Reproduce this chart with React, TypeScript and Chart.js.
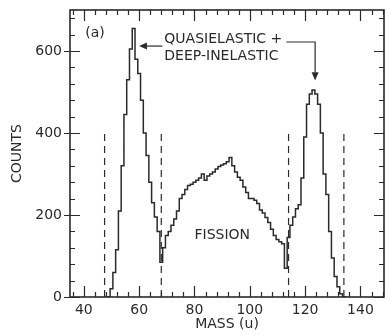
import React, { useEffect, useRef } from "react";
import { Chart, registerables } from "chart.js";

Chart.register(...registerables);

// Histogram bins (mass, u) and counts
const masses: number[] = [
  48, 49, 50, 51, 52, 53, 54, 55, 56, 57, 58, 59, 60, 61, 62, 63, 64, 65, 66, 67,
  68, 69, 70, 71, 72, 73, 74, 75, 76, 77, 78, 79, 80, 81, 82, 83, 84, 85, 86, 87,
  88, 89, 90, 91, 92, 93, 94, 95, 96, 97, 98, 99, 100, 101, 102, 103, 104, 105, 106, 107,
  108, 109, 110, 111, 112, 113, 114, 115, 116, 117, 118, 119, 120, 121, 122, 123, 124, 125, 126, 127,
  128, 129, 130, 131, 132, 133, 134, 135,
];
const counts: number[] = [
  0, 0, 20, 60, 115, 210, 320, 445, 530, 605, 655, 580, 545, 480, 400, 345, 280, 230, 195, 160,
  85, 120, 150, 160, 175, 190, 210, 240, 250, 262, 272, 275, 280, 285, 290, 300, 285, 295, 300, 305,
  312, 318, 322, 325, 330, 340, 320, 305, 292, 285, 268, 255, 240, 240, 236, 228, 212, 205, 194, 182,
  165, 150, 140, 135, 130, 70, 145, 175, 195, 215, 225, 290, 390, 470, 495, 505, 495, 470, 400, 300,
  250, 160, 95, 50, 25, 8, 0, 0,
];

// Vertical dashed gate lines (mass) and their height (counts)
const gateMasses: number[] = [47.5, 68, 114, 134];
const gateTop = 400;

// Axis tick labels
const xTickLabels: number[] = [40, 60, 80, 100, 120, 140];
const yTickLabels: number[] = [0, 200, 400, 600];

const xMin = 35;
const xMax = 148.5;
const yMin = 0;
const yMax = 700;
const xMajor = 20;
const xMinor = 4;
const yMajor = 200;
const yMinor = 40;

const ink = "#2a2a2a";
const FONT = "'DejaVu Sans', sans-serif";

const framePlugin = {
  id: "frameTicks",
  afterDraw(chart: any) {
    const { ctx, chartArea } = chart;
    const { left, right, top, bottom } = chartArea;
    const xs = chart.scales.x;
    const ys = chart.scales.y;
    ctx.save();
    ctx.strokeStyle = ink;
    ctx.lineWidth = 1.6;
    ctx.strokeRect(left, top, right - left, bottom - top);
    ctx.lineWidth = 1.2;
    ctx.beginPath();
    for (let v = Math.ceil(xMin / xMinor) * xMinor; v <= xMax; v += xMinor) {
      const px = Math.round(xs.getPixelForValue(v)) + 0.5;
      const major = v % xMajor === 0;
      const len = major ? 11 : 5;
      ctx.moveTo(px, bottom);
      ctx.lineTo(px, bottom - len);
      ctx.moveTo(px, top);
      ctx.lineTo(px, top + len);
    }
    for (let v = yMin; v < yMax; v += yMinor) {
      const py = Math.round(ys.getPixelForValue(v)) + 0.5;
      const major = v % yMajor === 0;
      const len = major ? 10 : 5;
      ctx.moveTo(left - (major ? 6 : 0), py);
      ctx.lineTo(left + len, py);
      ctx.moveTo(right, py);
      ctx.lineTo(right - len, py);
    }
    ctx.stroke();

    // annotations
    const X = (m: number) => xs.getPixelForValue(m);
    const Y = (c: number) => ys.getPixelForValue(c);
    ctx.fillStyle = ink;
    ctx.font = `14px ${FONT}`;
    ctx.textBaseline = "middle";
    ctx.textAlign = "left";
    ctx.fillText("(a)", X(40.5), Y(643));
    ctx.fillText("QUASIELASTIC +", X(69.1), Y(629));
    ctx.fillText("DEEP-INELASTIC", X(69.1), Y(587));
    ctx.fillText("FISSION", X(80), Y(150));

    // left arrow
    ctx.lineWidth = 1.2;
    ctx.beginPath();
    ctx.moveTo(X(68.4), Y(612));
    ctx.lineTo(X(62), Y(612));
    ctx.stroke();
    ctx.beginPath();
    ctx.moveTo(X(60), Y(612));
    ctx.lineTo(X(62.8), Y(612) - 3.5);
    ctx.lineTo(X(62.8), Y(612) + 3.5);
    ctx.closePath();
    ctx.fill();

    // right bracket arrow
    ctx.beginPath();
    ctx.moveTo(X(113.2), Y(622));
    ctx.lineTo(X(123.6), Y(622));
    ctx.lineTo(X(123.6), Y(548));
    ctx.stroke();
    ctx.beginPath();
    ctx.moveTo(X(123.6), Y(528));
    ctx.lineTo(X(123.6) - 3.5, Y(548));
    ctx.lineTo(X(123.6) + 3.5, Y(548));
    ctx.closePath();
    ctx.fill();
    ctx.restore();
  },
};

export default function App() {
  const ref = useRef<HTMLCanvasElement | null>(null);
  useEffect(() => {
    if (!ref.current) return;
    const hist = masses.map((m, i) => ({ x: m, y: counts[i] }));
    const gates = gateMasses.map((g) => ({
      type: "line" as const,
      data: [
        { x: g, y: 0 },
        { x: g, y: gateTop },
      ],
      borderColor: ink,
      borderWidth: 1.2,
      borderDash: [7, 5],
      pointRadius: 0,
      fill: false,
    }));
    const chart = new Chart(ref.current, {
      type: "line",
      data: {
        datasets: [
          {
            data: hist,
            stepped: "middle",
            borderColor: ink,
            borderWidth: 1.5,
            pointRadius: 0,
            fill: false,
          },
          ...gates,
        ] as any,
      },
      options: {
        animation: false,
        responsive: true,
        maintainAspectRatio: false,
        layout: { padding: { top: 10, right: 1, left: 0, bottom: 0 } },
        plugins: { legend: { display: false }, tooltip: { enabled: false } },
        scales: {
          x: {
            type: "linear",
            min: xMin,
            max: xMax,
            afterBuildTicks: (s: any) => {
              s.ticks = xTickLabels.map((v) => ({ value: v }));
            },
            afterFit: (s: any) => {
              s.height = 38;
              s.paddingLeft = 0;
              s.paddingRight = 0;
            },
            grid: { display: false, drawTicks: false },
            border: { display: false },
            ticks: {
              padding: 5,
              color: ink,
              font: { family: FONT, size: 14 },
              maxRotation: 0,
              autoSkip: false,
            },
            title: {
              display: true,
              text: "MASS (u)",
              color: ink,
              font: { family: FONT, size: 14 },
              padding: { top: 0, bottom: 2 },
            },
          },
          y: {
            type: "linear",
            min: yMin,
            max: yMax,
            afterBuildTicks: (s: any) => {
              s.ticks = yTickLabels.map((v) => ({ value: v }));
            },
            afterFit: (s: any) => {
              s.width = 70;
              s.paddingTop = 0;
              s.paddingBottom = 0;
            },
            grid: { display: false, drawTicks: false },
            border: { display: false },
            ticks: {
              padding: 8,
              color: ink,
              font: { family: FONT, size: 14 },
              autoSkip: false,
            },
            title: {
              display: true,
              text: "COUNTS",
              color: ink,
              font: { family: FONT, size: 14 },
              padding: { top: 9, bottom: 0 },
            },
          },
        },
      },
      plugins: [framePlugin],
    });
    return () => chart.destroy();
  }, []);
  return (
    <div style={{ position: "fixed", left: 0, top: 0, width: 385, height: 335, background: "#fff" }}>
      <canvas ref={ref} />
    </div>
  );
}
